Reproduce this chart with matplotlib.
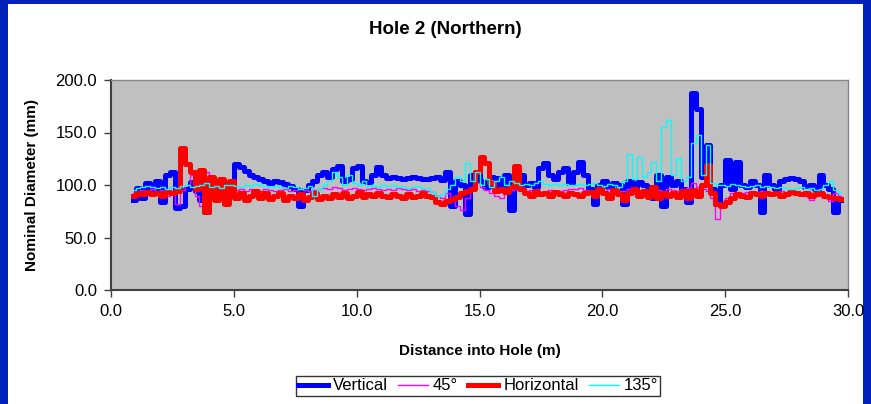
import numpy as np
import matplotlib.pyplot as plt
from matplotlib.patches import Rectangle

plt.rcParams['font.family'] = ['Liberation Sans', 'DejaVu Sans']

# depth range covered by the readings (m)
start_depth = 0.9
end_depth = 29.7

# Vertical diameter (mm), read every ~0.2 m
vertical = [86, 97, 88, 102, 95, 104, 84, 110, 112, 78,
            80, 96, 103, 94, 86, 74, 100, 92, 98, 86,
            90, 120, 117, 113, 110, 108, 106, 104, 102, 104,
            103, 101, 99, 96, 80, 95, 100, 104, 110, 112,
            108, 115, 118, 104, 106, 116, 118, 104, 103, 110,
            117, 110, 107, 108, 107, 106, 107, 108, 107, 106,
            106, 107, 108, 105, 112, 80, 104, 100, 72, 110,
            112, 104, 98, 108, 107, 95, 110, 76, 112, 110,
            100, 102, 98, 116, 121, 110, 106, 112, 116, 102,
            112, 122, 110, 96, 82, 100, 104, 98, 102, 100,
            82, 104, 96, 103, 100, 98, 88, 110, 80, 108,
            100, 104, 96, 84, 188, 172, 108, 138, 96, 82,
            100, 124, 96, 122, 100, 98, 104, 100, 74, 110,
            100, 96, 104, 106, 107, 106, 104, 98, 100, 96,
            110, 100, 96, 74, 86]

# 45 degree diameter (mm)
deg45 = [92, 94, 95, 93, 96, 94, 95, 90, 98, 82,
         95, 100, 110, 90, 80, 112, 94, 88, 92, 90,
         94, 95, 96, 94, 96, 95, 94, 96, 95, 94,
         95, 96, 94, 95, 96, 95, 94, 95, 96, 97,
         96, 98, 97, 95, 96, 97, 96, 95, 96, 97,
         96, 95, 96, 95, 97, 96, 95, 96, 94, 95,
         94, 93, 90, 88, 92, 86, 80, 76, 88, 96,
         102, 98, 95, 92, 90, 88, 94, 95, 96, 94,
         94, 95, 94, 93, 94, 95, 94, 94, 95, 96,
         96, 97, 95, 94, 93, 95, 94, 96, 95, 94,
         94, 96, 95, 93, 95, 94, 96, 95, 94, 96,
         95, 94, 96, 97, 102, 98, 96, 94, 88, 68,
         80, 88, 92, 93, 92, 93, 92, 93, 94, 93,
         92, 93, 94, 93, 92, 93, 92, 90, 86, 90,
         92, 88, 85, 92, 90]

# Horizontal diameter (mm)
horizontal = [90, 92, 91, 93, 91, 92, 90, 93, 92, 94,
              135, 120, 112, 96, 114, 74, 108, 86, 106, 82,
              104, 88, 92, 86, 90, 94, 88, 92, 87, 90,
              92, 86, 90, 88, 91, 86, 89, 92, 87, 90,
              88, 91, 89, 92, 88, 90, 93, 89, 91, 90,
              92, 90, 89, 91, 90, 88, 91, 89, 90, 92,
              90, 89, 84, 82, 85, 87, 89, 92, 94, 96,
              112, 127, 121, 102, 94, 96, 93, 98, 118, 96,
              92, 90, 94, 91, 92, 90, 93, 91, 90, 92,
              91, 90, 92, 93, 90, 96, 92, 88, 95, 91,
              86, 92, 96, 90, 94, 89, 98, 88, 92, 90,
              92, 89, 94, 88, 95, 90, 100, 119, 92, 82,
              80, 84, 88, 91, 90, 89, 92, 91, 90, 92,
              91, 92, 90, 91, 93, 92, 91, 92, 90, 91,
              92, 90, 89, 88, 87]

# 135 degree diameter (mm)
deg135 = [95, 97, 98, 99, 98, 97, 98, 96, 98, 97,
          99, 100, 98, 99, 100, 102, 98, 99, 97, 100,
          100, 99, 98, 100, 99, 101, 100, 99, 98, 99,
          98, 97, 99, 98, 96, 97, 99, 90, 96, 100,
          104, 112, 108, 100, 110, 102, 100, 104, 99, 100,
          98, 100, 99, 100, 98, 99, 97, 98, 99, 97,
          97, 93, 90, 91, 96, 100, 108, 104, 121, 104,
          112, 100, 106, 98, 104, 108, 100, 104, 102, 100,
          101, 100, 102, 104, 101, 100, 101, 100, 101, 100,
          100, 101, 100, 101, 102, 100, 99, 101, 100, 98,
          104, 130, 106, 127, 108, 112, 122, 104, 155, 162,
          110, 126, 104, 108, 140, 148, 110, 138, 102, 100,
          100, 99, 101, 100, 99, 98, 99, 100, 98, 99,
          98, 97, 98, 97, 96, 97, 98, 96, 97, 95,
          96, 100, 104, 95, 92]

depth = np.linspace(start_depth, end_depth, len(vertical))

fig = plt.figure(figsize=(8.71, 4.04), dpi=100, facecolor='#0022BB')
# white chart area inside the blue frame
fig.patches.append(Rectangle((8 / 871, 0), 855 / 871, 1 - 4 / 404,
                             transform=fig.transFigure, facecolor='white',
                             edgecolor='none', zorder=-1))

ax = fig.add_axes([111 / 871, 1 - 290 / 404, 737 / 871, 210 / 404])
ax.set_facecolor('#C0C0C0')

ax.plot(depth, vertical, color='#0000FF', lw=3.6, drawstyle='steps-mid',
        label='Vertical')
ax.plot(depth, deg45, color='#FF00FF', lw=1, drawstyle='steps-mid', label='45°')
ax.plot(depth, horizontal, color='#FF0000', lw=3.6, drawstyle='steps-mid',
        label='Horizontal')
ax.plot(depth, deg135, color='#00FFFF', lw=1, drawstyle='steps-mid', label='135°')

ax.set_xlim(0, 30)
ax.set_ylim(0, 200)
ax.set_xticks(np.arange(0, 30.1, 5))
ax.set_yticks(np.arange(0, 200.1, 50))
ax.set_xticklabels([f'{v:.1f}' for v in np.arange(0, 30.1, 5)])
ax.set_yticklabels([f'{v:.1f}' for v in np.arange(0, 200.1, 50)])
ax.tick_params(labelsize=12, length=5, width=1, color='#404040', pad=5)

for side in ['left', 'bottom']:
    ax.spines[side].set_color('#404040')
    ax.spines[side].set_linewidth(1.5)
for side in ['top', 'right']:
    ax.spines[side].set_color('#888888')
    ax.spines[side].set_linewidth(1)

ax.set_xlabel('Distance into Hole (m)', fontsize=11, fontweight='bold', labelpad=18)
ax.set_ylabel('Nominal Diameter (mm)', fontsize=11, fontweight='bold', labelpad=12)
fig.text(445 / 871, 1 - 30 / 404, 'Hole 2 (Northern)', ha='center', va='center',
         fontsize=13.5, fontweight='bold')

leg = fig.legend(loc='center', bbox_to_anchor=(478 / 871, 1 - 386 / 404), ncol=4,
                 fontsize=12, frameon=True, fancybox=False, handlelength=1.8,
                 handletextpad=0.3, columnspacing=0.6, borderpad=0.15,
                 borderaxespad=0)
leg.get_frame().set_edgecolor('black')
leg.get_frame().set_linewidth(1)

fig.savefig('out.png', dpi=100, facecolor=fig.get_facecolor())
